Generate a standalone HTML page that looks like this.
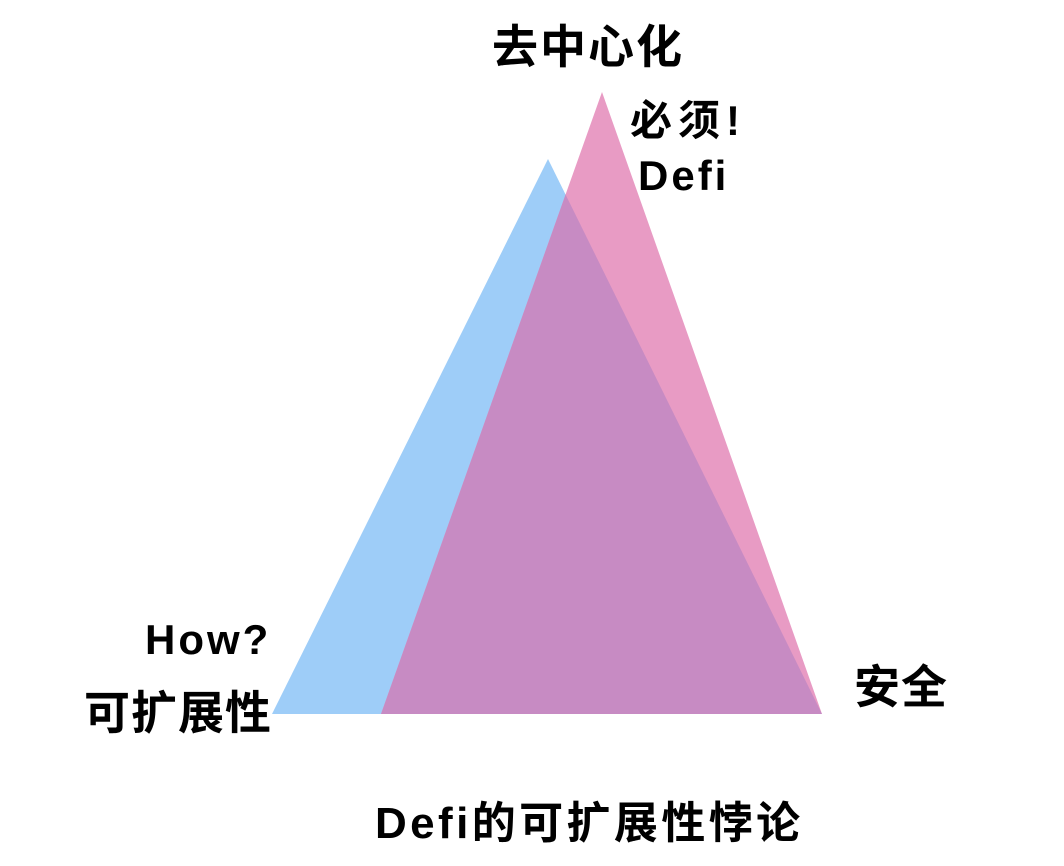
<!DOCTYPE html>
<html><head><meta charset="utf-8"><style>
html,body{margin:0;padding:0;background:#fff;}
body{width:1064px;height:866px;position:relative;overflow:hidden;font-family:"Liberation Sans","Noto Sans CJK SC",sans-serif;font-weight:bold;color:#000;}
.t{position:absolute;white-space:nowrap;line-height:1;}
</style></head><body>
<svg width="1064" height="866" style="position:absolute;left:0;top:0">
<polygon points="548,159 272,714 822,714" fill="#9ecdf8"/>
<polygon points="602,92 381,714 822,714" fill="#e89bc4"/>
<clipPath id="c"><polygon points="548,159 272,714 822,714"/></clipPath>
<polygon points="602,92 381,714 822,714" fill="#c78bc3" clip-path="url(#c)"/>
</svg>
<div class="t" style="left:492px;top:24px;font-size:46px;letter-spacing:2px;">去中心化</div>
<div class="t" style="left:630px;top:100px;font-size:42px;letter-spacing:6px;">必须!</div>
<div class="t" style="left:638px;top:155px;font-size:42px;letter-spacing:3px;">Defi</div>
<div class="t" style="left:145px;top:619px;font-size:42px;letter-spacing:3px;">How?</div>
<div class="t" style="left:84px;top:690px;font-size:46px;letter-spacing:1px;">可扩展性</div>
<div class="t" style="left:854px;top:664px;font-size:46px;letter-spacing:1px;">安全</div>
<div class="t" style="left:375px;top:802px;font-size:44px;letter-spacing:3.4px;">Defi的可扩展性悖论</div>
</body></html>
